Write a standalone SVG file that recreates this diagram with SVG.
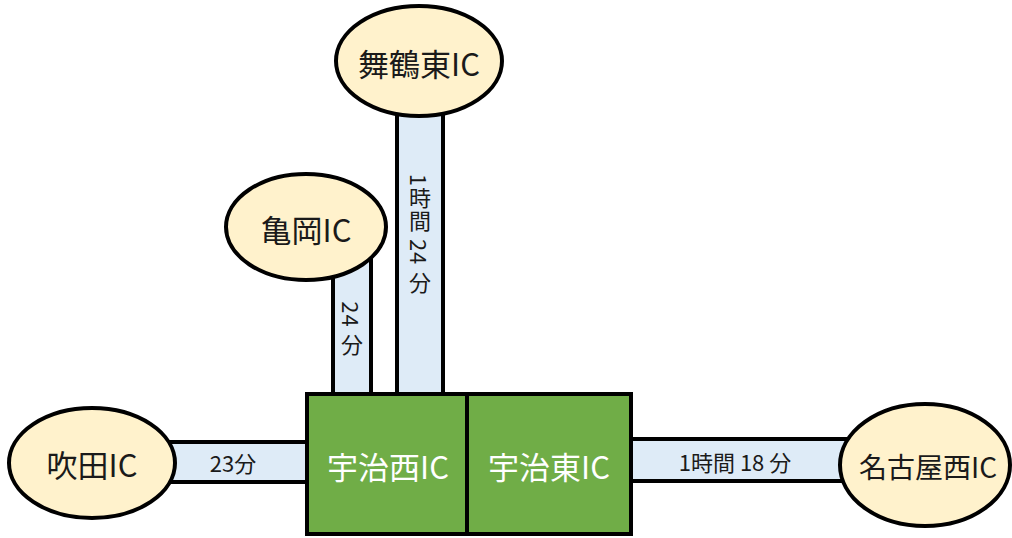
<svg xmlns="http://www.w3.org/2000/svg" width="1012" height="538" viewBox="0 0 1012 538">
<style>
.bar{fill:#DEEBF7;stroke:#000;stroke-width:4}
.ic{fill:#FFF2CC;stroke:#000;stroke-width:4}
.box{fill:#70AD47;stroke:#000;stroke-width:4}
text{font-family:"Noto Sans CJK JP","Noto Sans",sans-serif;text-anchor:middle;dominant-baseline:central}
.lbl{font-size:31px;fill:#1a1a1a}
.wl{font-size:31px;fill:#fff}
.sm{font-size:22px;fill:#1a1a1a}
.vt{font-size:22px;fill:#1a1a1a;writing-mode:vertical-rl;letter-spacing:1px}
</style>
<g id="connectors">
<g id="bar-maizuru"><rect class="bar" x="397" y="100" width="46" height="296"/><text class="vt" x="420" y="234">1時間 24 分</text></g>
<g id="bar-kameoka"><rect class="bar" x="333" y="250" width="38" height="146"/><text class="vt" x="352" y="329">24 分</text></g>
<g id="bar-suita"><rect class="bar" x="160" y="442" width="148" height="40"/><text class="sm" x="233" y="462">23分</text></g>
<g id="bar-nagoya"><rect class="bar" x="630" y="439" width="220" height="42"/><text class="sm" x="735" y="461">1時間 18 分</text></g>
</g>
<g id="maizuru"><ellipse class="ic" cx="419" cy="61" rx="83" ry="55"/><text class="lbl" x="419" y="62">舞鶴東IC</text></g>
<g id="kameoka"><ellipse class="ic" cx="306" cy="227" rx="80" ry="53"/><text class="lbl" x="306" y="228">亀岡IC</text></g>
<g id="suita"><ellipse class="ic" cx="92" cy="463" rx="83" ry="55"/><text class="lbl" x="92" y="463">吹田IC</text></g>
<g id="nagoya"><ellipse class="ic" cx="925" cy="465" rx="85" ry="61"/><text class="lbl" x="928" y="466" style="font-size:28px">名古屋西IC</text></g>
<g id="uji-nishi"><rect class="box" x="307" y="394" width="160" height="140"/><text class="wl" x="388" y="465">宇治西IC</text></g>
<g id="uji-higashi"><rect class="box" x="467" y="394" width="164" height="140"/><text class="wl" x="549" y="465">宇治東IC</text></g>
</svg>
